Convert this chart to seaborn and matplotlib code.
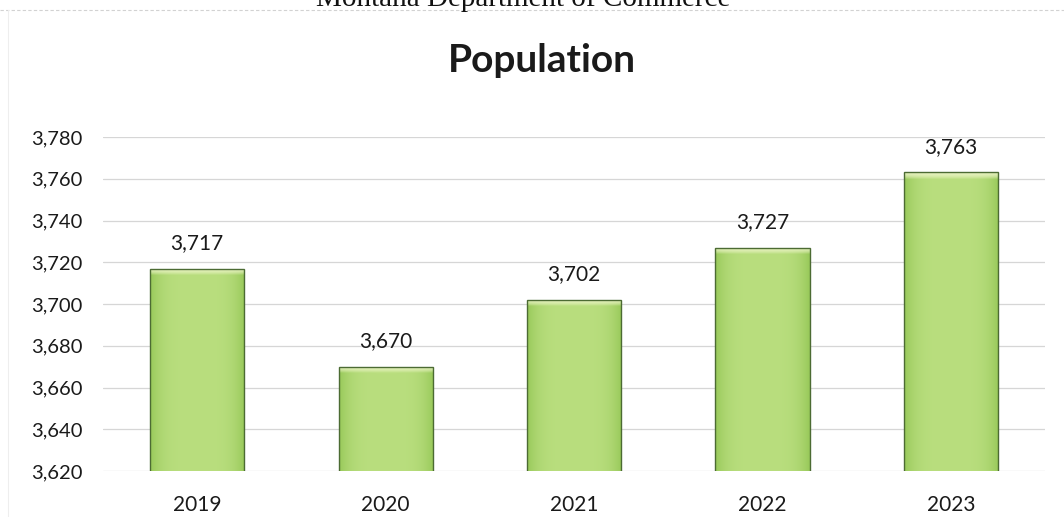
import matplotlib
matplotlib.use("Agg")
import matplotlib.pyplot as plt
import matplotlib.colors as mcolors
from matplotlib.lines import Line2D
import numpy as np
import pandas as pd
import seaborn as sns

years = ["2019", "2020", "2021", "2022", "2023"]
population = [3717, 3670, 3702, 3727, 3763]
y_ticks = [3620, 3640, 3660, 3680, 3700, 3720, 3740, 3760, 3780]
title = "Population"
header = "Montana Department of Commerce"

sns.set_theme(style="white")
plt.rcParams["font.family"] = ["Lato", "DejaVu Sans"]

df = pd.DataFrame({"Year": years, "Population": population})

fig = plt.figure(figsize=(10.64, 5.17), dpi=100)
ax = fig.add_axes([103 / 1064, 1 - 471 / 517, (1045 - 103) / 1064, (471 - 137) / 517])

sns.barplot(data=df, x="Year", y="Population", color="#b3da78", width=0.5,
            edgecolor="#4c6b33", linewidth=1.0, ax=ax, zorder=3)

ax.set_ylim(y_ticks[0], y_ticks[-1])
ax.set_yticks(y_ticks)
ax.set_yticklabels([f"{v:,}" for v in y_ticks])
ax.set_xlim(-0.5, len(years) - 0.5)
ax.set_xlabel("")
ax.set_ylabel("")
ax.tick_params(axis="both", length=0, labelsize=15, colors="#1a1a1a")
ax.tick_params(axis="y", pad=15, labelsize=14.5)
ax.tick_params(axis="x", pad=17)
ax.grid(axis="y", color="#d6d6d6", linewidth=0.9, zorder=0)
ax.set_axisbelow(True)
for s in ax.spines.values():
    s.set_visible(False)

# gradient fill clipped to each bar
edge = np.array(mcolors.to_rgb("#98c95a"))
mid = np.array(mcolors.to_rgb("#b9de7e"))
bevel = np.array(mcolors.to_rgb("#f0f6cc"))
nx, ny = 80, 300
xs = np.linspace(-1, 1, nx)
wx = np.abs(xs) ** 4
row = mid[None, :] * (1 - wx[:, None]) + edge[None, :] * wx[:, None]
ylo, yhi = ax.get_ylim()
for p in ax.patches:
    x0, w = p.get_x(), p.get_width()
    top = p.get_y() + p.get_height()
    bot = max(p.get_y(), ylo)
    vis = top - bot
    bev_frac = 3.2 / vis
    img = np.repeat(row[None, :, :], ny, axis=0)
    yf = np.linspace(1, 0, ny)  # row 0 = top
    for i, f in enumerate(yf):
        d = 1 - f
        if d < bev_frac:
            t = 1 - (d / bev_frac) ** 2
            img[i] = img[i] * (1 - 0.8 * t) + bevel * 0.8 * t
    im = ax.imshow(img, extent=[x0, x0 + w, bot, top], aspect="auto",
                   zorder=3.5, interpolation="bilinear")
    im.set_clip_path(p)
    p.set_facecolor("none")
    p.set_zorder(4)

ax.set_xlim(-0.5, len(years) - 0.5)
ax.set_ylim(y_ticks[0], y_ticks[-1])

ax.bar_label(ax.containers[0], labels=[f"{v:,}" for v in population],
             padding=11, fontsize=15, color="#1a1a1a")

fig.text(542 / 1064, 1 - 72 / 517, title, ha="center", va="baseline",
         fontsize=28, fontweight="bold", color="#1a1a1a")
fig.text(523 / 1064, 1 - 6 / 517, header, ha="center", va="baseline",
         fontsize=21, color="#111111", family=["Liberation Serif", "DejaVu Serif"])

fig.add_artist(Line2D([0, 1], [1 - 10 / 517, 1 - 10 / 517], transform=fig.transFigure,
                      color="#d2d2d2", linewidth=0.8, linestyle=(0, (3, 2))))
fig.add_artist(Line2D([8 / 1064, 8 / 1064], [0, 1 - 10 / 517], transform=fig.transFigure,
                      color="#eeeeee", linewidth=0.8))

fig.savefig("out.png", dpi=100)
